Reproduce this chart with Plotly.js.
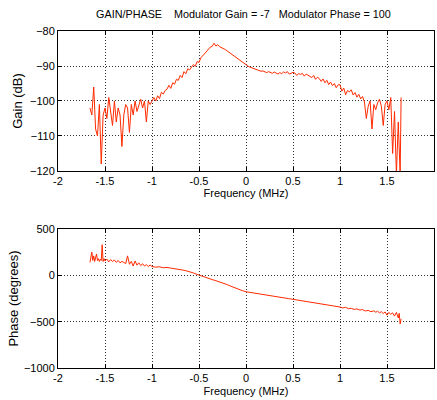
<!DOCTYPE html>
<html>
<head>
<meta charset="utf-8">
<script src="https://cdn.plot.ly/plotly-3.0.1.min.js"></script>
<style>html,body{margin:0;padding:0;background:#fff;}#chart{width:437px;height:400px;}</style>
</head>
<body>
<div id="chart"></div>
<script>
// Frequency (MHz) and Gain (dB)
const gainFreq = [-1.66,-1.64,-1.62,-1.60,-1.58,-1.56,-1.54,-1.52,-1.50,-1.48,-1.46,-1.44,-1.42,-1.40,-1.38,-1.36,-1.34,-1.32,-1.30,-1.28,-1.26,-1.24,-1.22,-1.20,-1.18,-1.16,-1.14,-1.12,-1.10,-1.08,-1.06,-1.04,-1.02,-1.00,
-0.98,-0.96,-0.94,-0.92,-0.90,-0.88,-0.86,-0.84,-0.82,-0.80,-0.78,-0.76,-0.74,-0.72,-0.70,-0.68,-0.66,-0.64,-0.62,-0.60,-0.58,-0.56,-0.54,-0.52,-0.50,-0.48,-0.46,-0.44,-0.42,-0.40,-0.38,-0.36,-0.34,-0.32,-0.30,-0.28,-0.26,-0.24,
-0.22,-0.20,-0.18,-0.16,-0.14,-0.12,-0.10,-0.08,-0.06,-0.04,-0.02,0.00,0.02,0.04,0.06,0.08,0.10,0.12,0.14,0.16,0.18,0.20,0.22,0.24,0.26,0.28,0.30,0.32,0.34,0.36,0.38,0.40,0.42,0.44,0.46,0.48,0.50,0.52,0.54,0.56,0.58,0.60,
0.62,0.64,0.66,0.68,0.70,0.72,0.74,0.76,0.78,0.80,0.82,0.84,0.86,0.88,0.90,0.92,0.94,0.96,0.98,1.00,1.02,1.04,1.06,1.08,1.10,1.12,1.14,1.16,1.18,1.20,1.22,1.24,1.26,1.28,1.30,1.32,1.34,1.36,1.38,1.40,1.42,1.44,1.46,1.48,
1.50,1.52,1.54,1.56,1.58,1.60,1.62,1.64,1.65];
const gainDb = [-102,-104,-96,-108,-110,-101,-118,-104,-102,-105,-99,-104,-107,-100,-106,-102,-104,-113,-104,-101,-102,-109,-101,-104,-100,-103,-101,-99.5,-102,-100,-106,-100,-101,-100,
-99,-100,-98.5,-99.3,-97.5,-98,-97,-96.6,-95.5,-96.4,-94.8,-95.2,-93.8,-94.1,-92.7,-93.3,-91.6,-92.2,-90.8,-91.1,-90.2,-89.6,-90.1,-88.7,-89,-87.6,-87.1,-86.4,-86,-85.2,-84.6,-84.4,-83.5,-84.3,-83.9,-84.5,-84.7,-85,
-85.3,-85.7,-86.1,-86.6,-87,-87.4,-87.8,-88.2,-88.6,-89,-89.3,-89.6,-90,-90.3,-90.5,-90.8,-91,-91.2,-91.3,-91.5,-91.4,-91.6,-91.9,-91.6,-91.8,-92.1,-91.7,-92,-92.3,-91.9,-92.2,-91.7,-92,-91.6,-92.3,-92.1,-91.8,-92,-92.7,-92.2,-92.4,-92.1,
-92.9,-92.3,-92.6,-92.8,-93.3,-92.7,-93.8,-93.2,-93.6,-94.4,-93.7,-94.8,-94.1,-95.3,-94.6,-95.6,-95,-96.2,-95.4,-95.3,-97.2,-96.3,-98.2,-97,-97.4,-96.8,-98.3,-97.6,-98.9,-98.1,-99.4,-98.7,-100.3,-105,-101.5,-100,-108,-101,-102.5,-100.5,-99.5,-101.5,-107,-101,
-100,-102.5,-99,-115,-103,-121,-106,-121,-99];

// Frequency (MHz) and Phase (degrees)
const phaseFreq = [-1.66,-1.65,-1.64,-1.63,-1.62,-1.61,-1.60,-1.59,-1.58,-1.57,-1.56,-1.55,-1.54,-1.53,-1.52,-1.51,-1.50,-1.48,-1.46,-1.44,-1.42,-1.40,-1.38,-1.36,-1.34,-1.32,-1.30,-1.28,-1.26,-1.24,-1.22,-1.20,-1.18,-1.16,-1.14,-1.12,-1.10,-1.08,-1.06,-1.04,-1.02,-1.00,
-0.96,-0.92,-0.88,-0.84,-0.80,-0.76,-0.72,-0.68,-0.64,-0.60,-0.56,-0.52,-0.48,-0.44,-0.40,-0.36,-0.32,-0.28,-0.24,-0.20,-0.16,-0.12,-0.08,-0.04,0.00,0.05,0.10,0.15,0.20,0.25,0.30,0.35,0.40,0.45,0.50,0.55,0.60,0.65,0.70,0.75,0.80,
0.84,0.88,0.92,0.96,1.00,1.03,1.06,1.09,1.12,1.15,1.18,1.21,1.24,1.27,1.30,1.33,1.36,1.38,1.40,1.42,1.44,1.46,1.48,1.50,1.52,1.54,1.56,1.58,1.60,1.62,1.63,1.64,1.65];
const phaseDeg = [140,200,250,160,210,150,190,230,160,180,150,175,160,330,150,180,155,175,145,170,150,165,140,160,135,150,140,125,210,120,150,100,155,110,135,105,125,100,115,95,110,95,
88,92,82,85,78,74,66,58,50,40,26,10,-6,-20,-33,-46,-58,-70,-84,-100,-118,-135,-150,-165,-177,-186,-195,-203,-211,-219,-227,-235,-243,-251,-259,-267,-276,-284,-293,-300,-310,
-315,-325,-328,-338,-342,-352,-345,-360,-356,-368,-362,-375,-370,-385,-378,-392,-383,-398,-388,-405,-392,-412,-395,-430,-400,-420,-405,-440,-400,-460,-410,-525,-470];

const xTicks = [-2,-1.5,-1,-0.5,0,0.5,1,1.5,2];
const xTickText = ['-2','-1.5','-1','-0.5','0','0.5','1','1.5','2'];
const gainTicks = [-120,-110,-100,-90,-80];
const phaseTicks = [-1000,-500,0,500];

const lineColor = '#ff2a00';
const fam = 'Liberation Sans, Arial, sans-serif';
const font = {family: fam, size: 11, color: '#000'};
const yTitleFont = {family: fam, size: 13, color: '#000'};

const axisCommon = {
  showline: true, linecolor: '#000', linewidth: 1, mirror: 'ticks',
  ticks: 'inside', ticklen: 4, tickcolor: '#000', tickwidth: 1,
  showgrid: true, gridcolor: '#333', griddash: '1px,2px', gridwidth: 1,
  zeroline: false, tickfont: font
};

const traces = [
  {x: gainFreq, y: gainDb, type: 'scatter', mode: 'lines', line: {color: lineColor, width: 1}, xaxis: 'x', yaxis: 'y', hoverinfo: 'skip'},
  {x: phaseFreq, y: phaseDeg, type: 'scatter', mode: 'lines', line: {color: lineColor, width: 1}, xaxis: 'x2', yaxis: 'y2', hoverinfo: 'skip'}
];

const layout = {
  width: 437, height: 400,
  margin: {l: 58, r: 3, t: 31, b: 32},
  paper_bgcolor: '#fff', plot_bgcolor: '#fff',
  showlegend: false,
  font: font,
  title: {text: 'GAIN/PHASE    Modulator Gain = -7   Modulator Phase = 100', font: {family: fam, size: 10.8, color: '#000'}, x: 0.557, xanchor: 'center', y: 0.965, yanchor: 'middle'},
  xaxis: Object.assign({}, axisCommon, {domain: [0, 1], anchor: 'y', range: [-2, 2], tickvals: xTicks, ticktext: xTickText,
    title: {text: 'Frequency (MHz)', font: font, standoff: 3}}),
  yaxis: Object.assign({}, axisCommon, {domain: [0.5846, 1], anchor: 'x', range: [-120, -80], tickvals: gainTicks,
    title: {text: 'Gain (dB)', font: yTitleFont, standoff: 4}}),
  xaxis2: Object.assign({}, axisCommon, {domain: [0, 1], anchor: 'y2', range: [-2, 2], tickvals: xTicks, ticktext: xTickText,
    title: {text: 'Frequency (MHz)', font: font, standoff: 4}}),
  yaxis2: Object.assign({}, axisCommon, {domain: [0, 0.4125], anchor: 'x2', range: [-1000, 500], tickvals: phaseTicks,
    title: {text: 'Phase (degrees)', font: yTitleFont, standoff: 2}})
};

Plotly.newPlot('chart', traces, layout, {staticPlot: true, displayModeBar: false});
</script>
</body>
</html>
